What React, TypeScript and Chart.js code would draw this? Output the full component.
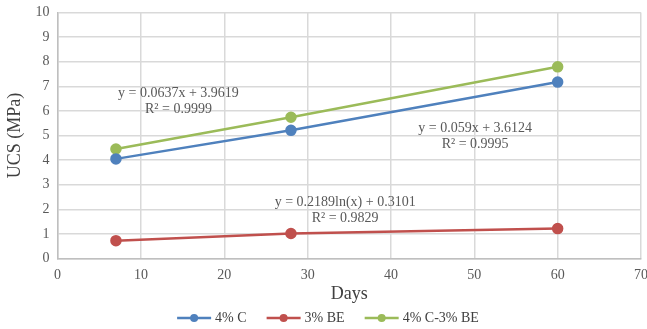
import React, { useEffect, useRef } from "react";
import { Chart, registerables } from "chart.js";

Chart.register(...registerables);

const days = [7, 28, 60];
const seriesNames = ["4% C", "3% BE", "4% C-3% BE"];
const c4 = [4.05, 5.21, 7.17];
const be3 = [0.73, 1.02, 1.22];
const c4be3 = [4.45, 5.74, 7.79];
const colors = ["#4F81BD", "#C0504D", "#9BBB59"];
const xTicks = [0, 10, 20, 30, 40, 50, 60, 70];
const yTicks = [0, 1, 2, 3, 4, 5, 6, 7, 8, 9, 10];

const trendLabels = [
  { lines: ["y = 0.0637x + 3.9619", "R² = 0.9999"], x: 14.5, y: 6.72 },
  { lines: ["y = 0.059x + 3.6124", "R² = 0.9995"], x: 50.1, y: 5.3 },
  { lines: ["y = 0.2189ln(x) + 0.3101", "R² = 0.9829"], x: 34.5, y: 2.27 },
];

const FONT = "'Liberation Serif', 'Times New Roman', serif";
const TOP_SHIFT = 4;

const trendPlugin = {
  id: "trendLabels",
  afterDatasetsDraw(chart: any) {
    const ctx = chart.ctx;
    const xs = chart.scales.x;
    const ys = chart.scales.y;
    ctx.save();
    ctx.font = `14px ${FONT}`;
    ctx.fillStyle = "#595959";
    ctx.textAlign = "center";
    ctx.textBaseline = "middle";
    for (const t of trendLabels) {
      const px = xs.getPixelForValue(t.x);
      const py = ys.getPixelForValue(t.y);
      t.lines.forEach((l, i) => ctx.fillText(l, px, py + i * 16));
    }
    ctx.restore();
  },
};

const legendPlugin = {
  id: "customLegend",
  afterDraw(chart: any) {
    const ctx = chart.ctx;
    ctx.save();
    ctx.font = `14px ${FONT}`;
    const lineW = 34;
    const gap = 4;
    const itemGap = 20;
    const widths = seriesNames.map((n) => lineW + gap + ctx.measureText(n).width);
    const total = widths.reduce((a, b) => a + b, 0) + itemGap * (seriesNames.length - 1);
    let x = 328 - total / 2;
    const y = 318 + TOP_SHIFT;
    seriesNames.forEach((n, i) => {
      ctx.strokeStyle = colors[i];
      ctx.fillStyle = colors[i];
      ctx.lineWidth = 2.5;
      ctx.beginPath();
      ctx.moveTo(x, y);
      ctx.lineTo(x + lineW, y);
      ctx.stroke();
      ctx.beginPath();
      ctx.arc(x + lineW / 2, y, 4, 0, Math.PI * 2);
      ctx.fill();
      ctx.fillStyle = "#404040";
      ctx.textAlign = "left";
      ctx.textBaseline = "middle";
      ctx.fillText(n, x + lineW + gap, y);
      x += widths[i] + itemGap;
    });
    ctx.restore();
  },
};

export default function App() {
  const ref = useRef<HTMLCanvasElement>(null);
  useEffect(() => {
    const data = [c4, be3, c4be3];
    const chart = new Chart(ref.current!, {
      type: "scatter",
      data: {
        datasets: seriesNames.map((name, i) => ({
          label: name,
          data: days.map((d, j) => ({ x: d, y: data[i][j] })),
          showLine: true,
          borderColor: colors[i],
          backgroundColor: colors[i],
          borderWidth: 2.5,
          pointRadius: 4.5,
          pointHoverRadius: 4.5,
          pointStyle: "circle",
        })),
      },
      options: {
        animation: false,
        responsive: true,
        maintainAspectRatio: false,
        layout: { padding: { left: 0, right: 0, top: 0, bottom: 24 } },
        plugins: {
          tooltip: { enabled: false },
          legend: { display: false },
        },
        scales: {
          x: {
            type: "linear",
            min: 0,
            max: 70,
            afterBuildTicks: (s: any) => {
              s.ticks = xTicks.map((v) => ({ value: v }));
            },
            grid: { color: "#d9d9d9", lineWidth: 1.5, drawTicks: false },
            border: { color: "#bfbfbf", width: 1.5 },
            ticks: { font: { family: FONT, size: 14 }, color: "#595959", padding: 8 },
            title: {
              display: true,
              text: "Days",
              font: { family: FONT, size: 18 },
              color: "#404040",
              padding: { top: -8, bottom: 0 },
            },
          },
          y: {
            type: "linear",
            min: 0,
            max: 10,
            afterBuildTicks: (s: any) => {
              s.ticks = yTicks.map((v) => ({ value: v }));
            },
            grid: { color: "#d9d9d9", lineWidth: 1.5, drawTicks: false },
            border: { color: "#bfbfbf", width: 1.5 },
            ticks: { font: { family: FONT, size: 14 }, color: "#595959", padding: 8 },
            title: {
              display: true,
              text: "UCS (MPa)",
              font: { family: FONT, size: 18 },
              color: "#404040",
              padding: { top: 4, bottom: 2 },
            },
          },
        },
      },
      plugins: [trendPlugin, legendPlugin],
    });
    return () => chart.destroy();
  }, []);
  return (
    <div style={{ position: "fixed", left: 0, top: 0, width: 647, height: 329, overflow: "hidden", background: "#fff" }}>
      <div style={{ position: "absolute", left: 0, top: -TOP_SHIFT, width: 656, height: 329 + TOP_SHIFT }}>
        <canvas ref={ref} />
      </div>
    </div>
  );
}
